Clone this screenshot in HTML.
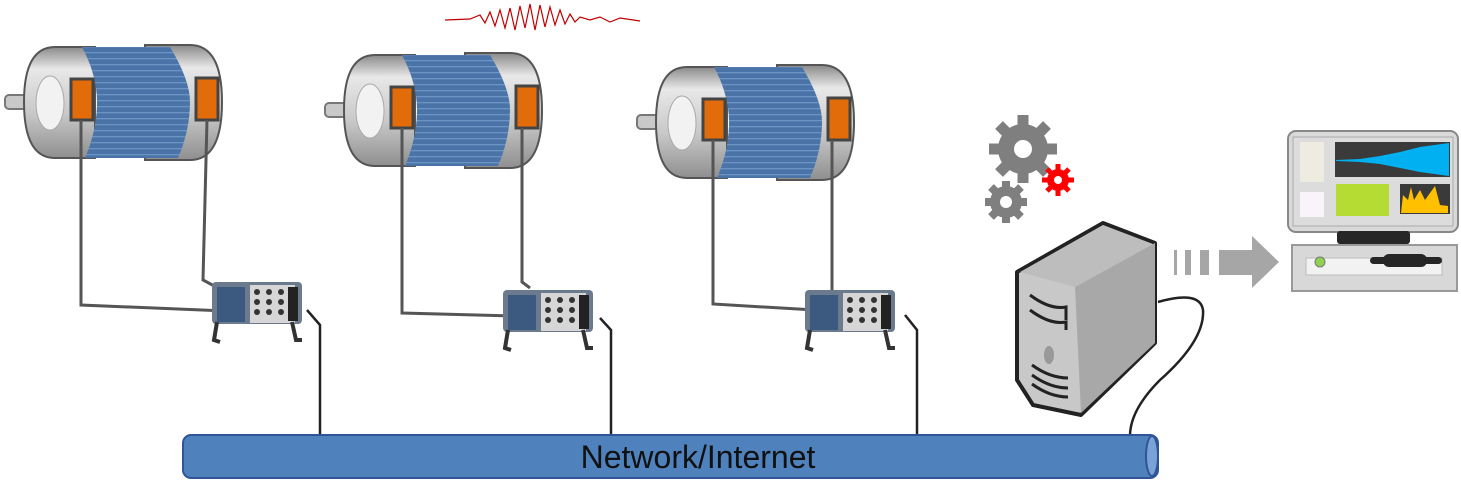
<!DOCTYPE html>
<html><head><style>body{margin:0;background:#fff}svg{display:block}</style></head><body>
<svg width="1461" height="499" viewBox="0 0 1461 499" xmlns="http://www.w3.org/2000/svg">
<defs>
<linearGradient id="cap" x1="0" y1="0" x2="0" y2="1"><stop offset="0" stop-color="#8a8a8a"/><stop offset=".2" stop-color="#e8e8e8"/><stop offset=".6" stop-color="#c8c8c8"/><stop offset="1" stop-color="#8f8f8f"/></linearGradient>
<pattern id="stripes" width="10" height="6" patternUnits="userSpaceOnUse"><rect width="10" height="6" fill="#4a74a8"/><rect y="4" width="10" height="1.3" fill="#6d93c4"/></pattern>
<g id="motor">
<rect x="5" y="95" width="48" height="14" rx="4" fill="#c9c9c9" stroke="#777" stroke-width="2"/>
<path d="M55 47 H95 V158 H55 Q24 158 24 102 Q24 47 55 47Z" fill="url(#cap)" stroke="#555" stroke-width="2"/>
<ellipse cx="50" cy="103" rx="14" ry="27" fill="#f2f2f2" stroke="#aaa"/>
<path d="M145 45 H190 Q222 45 222 102 Q222 160 190 160 H145Z" fill="url(#cap)" stroke="#555" stroke-width="2"/>
<path d="M82 47 H170 Q190 80 190 102 Q190 130 178 158 H85 Q97 130 97 102 Q97 75 82 47Z" fill="url(#stripes)"/>
<rect x="71" y="79" width="22" height="41" fill="#e36c0a" stroke="#444" stroke-width="3"/>
<rect x="196" y="78" width="22" height="42" fill="#e36c0a" stroke="#444" stroke-width="3"/>
</g>
<g id="daq">
<rect x="0" y="0" width="90" height="42" rx="4" fill="#6b7a8c"/>
<rect x="5" y="5" width="28" height="35" fill="#3c5a80"/>
<rect x="38" y="3" width="45" height="38" fill="#d6d6d6"/>
<g fill="#333"><circle cx="45" cy="10" r="3"/><circle cx="45" cy="20" r="3"/><circle cx="45" cy="30" r="3"/><circle cx="57" cy="10" r="3"/><circle cx="57" cy="20" r="3"/><circle cx="57" cy="30" r="3"/><circle cx="69" cy="10" r="3"/><circle cx="69" cy="20" r="3"/><circle cx="69" cy="30" r="3"/></g>
<rect x="76" y="5" width="10" height="34" fill="#222"/>
<path d="M5 40 L2 58 L8 60 M80 40 L84 58 L90 58" stroke="#333" stroke-width="4" fill="none"/>
</g>
</defs>
<use href="#motor"/>
<use href="#motor" transform="translate(320,8)"/>
<use href="#motor" transform="translate(632,20)"/>
<g stroke="#555" stroke-width="3" fill="none">
<path d="M81 120 V305 L250 312"/><path d="M207 120 L203 280 L218 288"/>
<path d="M402 128 V313 L515 316"/><path d="M522 128 V282 L530 288"/>
<path d="M713 140 V304 L815 310"/><path d="M832 140 V295 L840 298"/>
</g>
<use href="#daq" transform="translate(212,282)"/>
<use href="#daq" transform="translate(503,290)"/>
<use href="#daq" transform="translate(805,290)"/>
<g stroke="#222" stroke-width="2.5" fill="none">
<path d="M307 310 L320 325 V436"/><path d="M600 318 L611 330 V436"/><path d="M905 315 L917 330 V436"/>
<path d="M1158 302 Q1200 290 1203 310 Q1205 340 1160 380 Q1130 410 1130 436"/>
</g>
<path d="M445 20 L470 19 L480 15 L485 23 L490 12 L495 26 L500 10 L505 28 L510 8 L515 30 L520 6 L525 28 L530 4 L535 30 L540 5 L545 27 L550 7 L555 25 L560 10 L565 24 L570 14 L575 22 L580 17 L590 20 L600 17 L610 22 L620 18 L640 21" stroke="#c00000" stroke-width="1.2" fill="none"/>
<rect x="183" y="435" width="975" height="43" rx="8" fill="#4f81bd" stroke="#2f5597" stroke-width="2"/>
<ellipse cx="1152" cy="456" rx="6" ry="20" fill="#7aa2d6" stroke="#2f5597" stroke-width="2"/>
<text x="698" y="468" font-family="Liberation Sans, sans-serif" font-size="32" text-anchor="middle" fill="#111">Network/Internet</text>
<!-- gears -->
<g fill="#7f7f7f">
<circle cx="1023" cy="149" r="25"/><g stroke="#7f7f7f" stroke-width="11"><path d="M1023 115 V183 M989 149 H1057 M999 125 L1047 173 M1047 125 L999 173"/></g>
<circle cx="1006" cy="202" r="16"/><g stroke="#7f7f7f" stroke-width="8"><path d="M1006 181 V223 M985 202 H1027 M991 187 L1021 217 M1021 187 L991 217"/></g>
</g>
<circle cx="1023" cy="149" r="9" fill="#fff"/><circle cx="1006" cy="202" r="6" fill="#fff"/>
<circle cx="1058" cy="180" r="11" fill="#f00"/><g stroke="#f00" stroke-width="5"><path d="M1058 164 V196 M1042 180 H1074 M1047 169 L1069 191 M1069 169 L1047 191"/></g><circle cx="1058" cy="180" r="4" fill="#fff"/>
<!-- server -->
<path d="M1017 272 L1103 223 L1155 243 L1155 343 L1081 415 L1033 405 L1017 380Z" fill="#c8c8c8" stroke="#222" stroke-width="4" stroke-linejoin="round"/>
<path d="M1075 287 L1155 243 V343 L1081 413Z" fill="#a8a8a8"/>
<path d="M1020 272 L1103 225 L1153 244 L1075 287Z" fill="#bdbdbd"/>
<g stroke="#222" stroke-width="3" fill="none"><path d="M1030 295 Q1050 310 1066 307 V320"/><path d="M1030 310 Q1050 325 1066 322 V330"/><path d="M1032 365 Q1050 378 1068 378"/><path d="M1032 375 Q1050 388 1068 388"/><path d="M1032 384 Q1050 397 1068 397"/></g>
<ellipse cx="1049" cy="355" rx="5" ry="9" fill="#999"/>
<!-- arrow -->
<g fill="#a6a6a6"><rect x="1174" y="250" width="3" height="25"/><rect x="1185" y="250" width="6" height="25"/><rect x="1200" y="250" width="9" height="25"/><rect x="1219" y="250" width="34" height="25"/><path d="M1252 236 L1279 262 L1252 288Z"/></g>
<!-- monitor -->
<rect x="1288" y="131" width="170" height="101" rx="8" fill="#d9d9d9" stroke="#888" stroke-width="2"/>
<rect x="1293" y="137" width="160" height="89" fill="#dcdcdc" stroke="#aaa"/>
<rect x="1300" y="142" width="24" height="40" fill="#eeece1"/>
<rect x="1300" y="192" width="24" height="25" fill="#f8f4fa"/>
<rect x="1335" y="142" width="115" height="35" fill="#3a3a3a"/>
<path d="M1336 160 L1360 159 L1380 156 L1400 152 L1420 147 L1449 143 V176 L1420 172 L1400 168 L1380 164 L1360 162 L1336 161Z" fill="#00b0f0"/>
<rect x="1336" y="184" width="53" height="32" fill="#b4dc32"/>
<rect x="1400" y="184" width="50" height="30" fill="#3a3a3a"/>
<path d="M1401 213 L1403 195 L1408 200 L1411 187 L1414 200 L1420 190 L1425 200 L1435 186 L1440 205 L1448 206 V213Z" fill="#ffc000"/>
<rect x="1337" y="231" width="73" height="13" rx="3" fill="#262626"/>
<rect x="1292" y="245" width="165" height="46" fill="#d8d8d8" stroke="#999" stroke-width="2"/>
<rect x="1306" y="258" width="136" height="17" fill="#f2f2f2" stroke="#bbb"/>
<circle cx="1320" cy="262" r="5" fill="#92d050" stroke="#777"/>
<rect x="1370" y="257" width="72" height="7" rx="3.5" fill="#262626"/><rect x="1383" y="254" width="44" height="13" rx="6" fill="#262626"/>
</svg>
</body></html>
